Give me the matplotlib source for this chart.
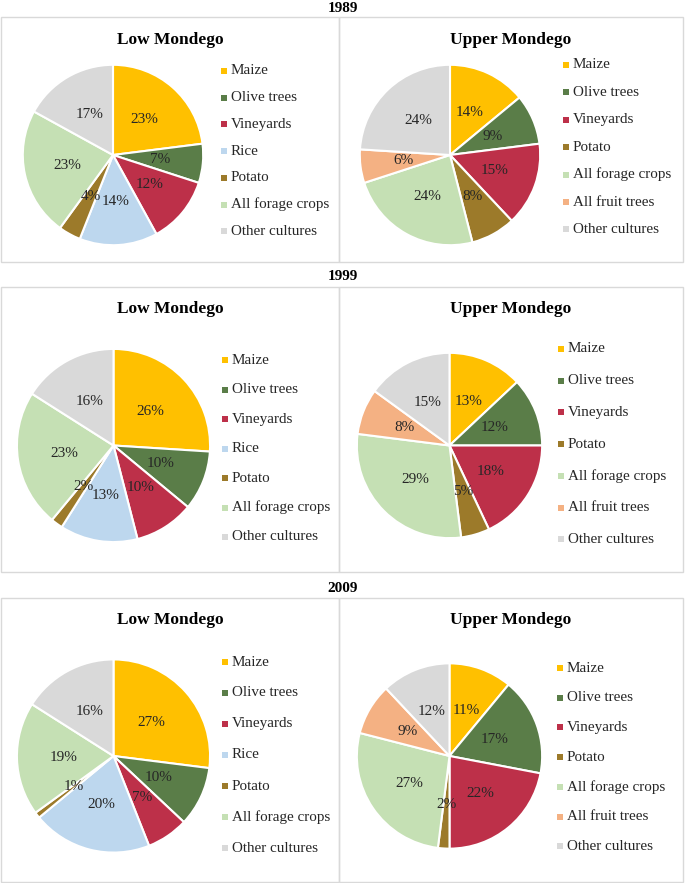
import matplotlib
matplotlib.use("Agg")
import matplotlib.pyplot as plt
from matplotlib.patches import Rectangle

plt.rcParams['font.family'] = ['Liberation Serif', 'DejaVu Serif']

# data (shares in %)
years = ["1989", "1999", "2009"]
low_cats = ["Maize", "Olive trees", "Vineyards", "Rice", "Potato",
            "All forage crops", "Other cultures"]
up_cats = ["Maize", "Olive trees", "Vineyards", "Potato",
           "All forage crops", "All fruit trees", "Other cultures"]

low_1989 = [23, 7, 12, 14, 4, 23, 17]
low_1999 = [26, 10, 10, 13, 2, 23, 16]
low_2009 = [27, 10, 7, 20, 1, 19, 16]
up_1989 = [14, 9, 15, 8, 24, 6, 24]
up_1999 = [13, 12, 18, 5, 29, 8, 15]
up_2009 = [11, 17, 22, 2, 27, 9, 12]

colors = {
    "Maize": "#FFC000",
    "Olive trees": "#5A7D48",
    "Vineyards": "#BD3049",
    "Rice": "#BDD7EE",
    "Potato": "#9C7A2A",
    "All forage crops": "#C5E0B4",
    "All fruit trees": "#F4B183",
    "Other cultures": "#D9D9D9",
}

W, H = 685, 883
fig = plt.figure(figsize=(W / 100, H / 100), dpi=100)
over = fig.add_axes([0, 0, 1, 1])
over.set_xlim(0, W)
over.set_ylim(H, 0)
over.axis('off')

# layout in pixels
rows = [
    dict(year_y=8, top=17, bot=262, title_y=40,
         low=dict(c=(113, 155), r=92, lx=224, ly0=71, dy=26.7),
         up=dict(c=(450, 155), r=92, lx=566, ly0=65, dy=27.4)),
    dict(year_y=276, top=287, bot=572, title_y=309,
         low=dict(c=(113.5, 445.5), r=98.5, lx=225, ly0=360, dy=29.5),
         up=dict(c=(449.5, 445.5), r=94.5, lx=561, ly0=349, dy=31.7)),
    dict(year_y=589, top=598, bot=882, title_y=620,
         low=dict(c=(113.5, 756), r=98.5, lx=225, ly0=662, dy=31.0),
         up=dict(c=(449.5, 756), r=94.5, lx=560, ly0=668, dy=29.7)),
]
low_vals = [low_1989, low_1999, low_2009]
up_vals = [up_1989, up_1999, up_2009]
box_x = [(1, 339), (339, 683)]


def draw_pie(c, r, vals, cats):
    cx, cy = c
    ax = fig.add_axes([(cx - r) / W, 1 - (cy + r) / H, 2 * r / W, 2 * r / H])
    ax.pie(vals, colors=[colors[k] for k in cats], startangle=90,
           counterclock=False, radius=1,
           autopct='%d%%', pctdistance=0.52,
           wedgeprops=dict(edgecolor='white', linewidth=1.5),
           textprops=dict(fontsize=11, color='#262626'))
    ax.set_xlim(-1.02, 1.02)
    ax.set_ylim(-1.02, 1.02)


def draw_legend(lx, ly0, dy, cats):
    for i, k in enumerate(cats):
        y = ly0 + i * dy
        over.scatter([lx], [y], marker='s', s=24, color=colors[k], linewidths=0)
        over.text(lx + 7, y, k, fontsize=10.9, va='center', ha='left',
                  color='#262626')


for i, row in enumerate(rows):
    over.text(343, row["year_y"], years[i], fontsize=11, fontweight='bold',
              ha='center', va='center')
    for j, (x0, x1) in enumerate(box_x):
        over.add_patch(Rectangle((x0, row["top"]), x1 - x0, row["bot"] - row["top"],
                                 fill=False, edgecolor='#D9D9D9', linewidth=1.0))
        title = "Low Mondego" if j == 0 else "Upper Mondego"
        over.text((x0 + x1) / 2, row["title_y"], title, fontsize=12.5,
                  fontweight='bold', ha='center', va='center')
    lo = row["low"]
    draw_pie(lo["c"], lo["r"], low_vals[i], low_cats)
    draw_legend(lo["lx"], lo["ly0"], lo["dy"], low_cats)
    up = row["up"]
    draw_pie(up["c"], up["r"], up_vals[i], up_cats)
    draw_legend(up["lx"], up["ly0"], up["dy"], up_cats)

fig.savefig("out.png", dpi=100)
